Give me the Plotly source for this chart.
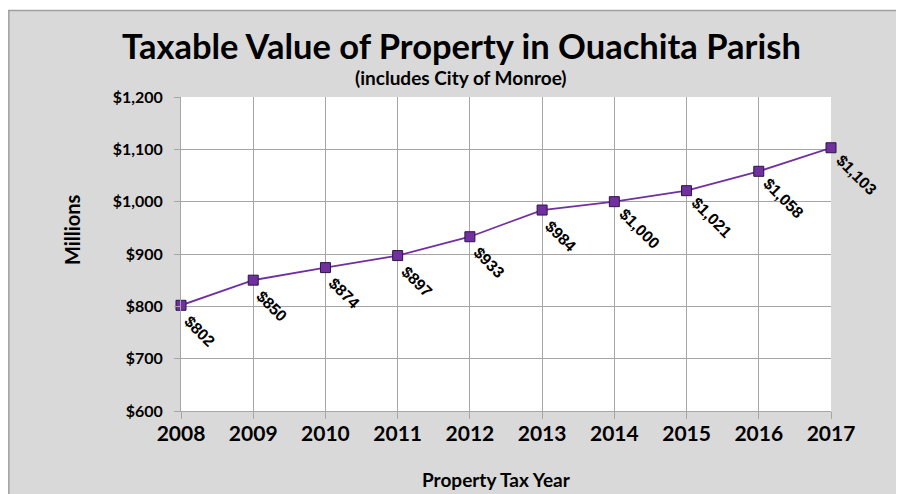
import plotly.graph_objects as go

years = [2008, 2009, 2010, 2011, 2012, 2013, 2014, 2015, 2016, 2017]
values = [802, 850, 874, 897, 933, 984, 1000, 1021, 1058, 1103]
y_ticks = [600, 700, 800, 900, 1000, 1100, 1200]
y_tick_labels = ["$600", "$700", "$800", "$900", "$1,000", "$1,100", "$1,200"]

title_text = "Taxable Value of Property in Ouachita Parish"
subtitle_text = "(includes City of Monroe)"
x_title = "Property Tax Year"
y_title = "Millions"

PURPLE = "#7030a0"
GRID = "#a6a6a6"
BG = "#d9d9d9"
FONT = "Lato"

# page geometry: the figure sits 8px in from the page's top-left corner
OFF = 8
W, H = 904 - OFF, 494 - OFF
L = 181 - OFF
T = 97 - OFF
R = W - (831.5 - OFF)
B = H - (411 - OFF)
pw, ph = W - L - R, H - T - B


def px(xp):  # page pixel -> paper
    return (xp - OFF - L) / pw


def py(yp):  # page pixel -> paper
    return (H - B - (yp - OFF)) / ph


fig = go.Figure()
fig.add_trace(go.Scatter(
    x=years, y=values, mode="lines+markers",
    line=dict(color=PURPLE, width=1.8),
    marker=dict(symbol="square", size=10, color=PURPLE,
                line=dict(color="#2e1440", width=1)),
    hoverinfo="skip", showlegend=False, cliponaxis=False,
))

annotations = []
for yr, v in zip(years, values):
    txt = "${:,}".format(v)
    extra = len(txt) - 4
    annotations.append(dict(
        x=yr, y=v, xref="x", yref="y", text="<b>" + txt + "</b>", showarrow=False,
        textangle=45, xshift=19 + 3 * extra, yshift=-(26 + 0.5 * extra),
        font=dict(family="Liberation Sans, Arial", size=16, color="#000000"),
    ))

annotations.append(dict(
    x=px(462), y=py(45), xref="paper", yref="paper", text="<b>" + title_text + "</b>",
    showarrow=False, xanchor="center", yanchor="middle",
    font=dict(family=FONT, size=34.5, color="#000000"),
))
annotations.append(dict(
    x=px(461), y=py(78), xref="paper", yref="paper", text="<b>" + subtitle_text + "</b>",
    showarrow=False, xanchor="center", yanchor="middle",
    font=dict(family=FONT, size=19, color="#000000"),
))
annotations.append(dict(
    x=px(497), y=py(479), xref="paper", yref="paper", text="<b>" + x_title + "</b>",
    showarrow=False, xanchor="center", yanchor="middle",
    font=dict(family=FONT, size=19, color="#000000"),
))
annotations.append(dict(
    x=px(72), y=py(230), xref="paper", yref="paper", text="<b>" + y_title + "</b>",
    showarrow=False, xanchor="center", yanchor="middle", textangle=-90,
    font=dict(family=FONT, size=20, color="#000000"),
))

shapes = [
    dict(type="rect", xref="paper", yref="paper", x0=px(-20), x1=px(1000), y0=py(10), y1=py(-100),
         fillcolor="white", line=dict(width=0), layer="below"),
    dict(type="line", xref="paper", yref="paper", x0=px(8.75), x1=px(8.75), y0=py(10), y1=py(600),
         line=dict(color="#a0a0a0", width=1.5), layer="below"),
    dict(type="line", xref="paper", yref="paper", x0=px(8), x1=px(1000), y0=py(10.5), y1=py(10.5),
         line=dict(color="#a0a0a0", width=1.5), layer="below"),
]

fig.update_layout(
    width=W, height=H,
    margin=dict(l=L, r=R, t=T, b=B, pad=0),
    paper_bgcolor=BG, plot_bgcolor="white",
    annotations=annotations, shapes=shapes,
    font=dict(family=FONT, color="#000000"),
    xaxis=dict(
        range=[2008, 2017], tickvals=years, ticktext=[str(y) for y in years],
        showgrid=True, gridcolor=GRID, gridwidth=1,
        showline=True, linecolor=GRID, linewidth=1,
        ticks="outside", ticklen=7, tickcolor=GRID, tickwidth=1,
        tickfont=dict(family=FONT, size=21, color="#000000", weight="bold"),
        zeroline=False, fixedrange=True, ticklabelstandoff=-3,
    ),
    yaxis=dict(
        range=[600, 1200], tickvals=y_ticks, ticktext=y_tick_labels,
        showgrid=True, gridcolor=GRID, gridwidth=1,
        showline=True, linecolor=GRID, linewidth=1,
        ticks="outside", ticklen=6, tickcolor=GRID, tickwidth=1,
        tickfont=dict(family=FONT, size=16, color="#000000", weight="bold"),
        zeroline=False, fixedrange=True, ticklabelstandoff=8,
    ),
)

fig.write_html("out.html")
